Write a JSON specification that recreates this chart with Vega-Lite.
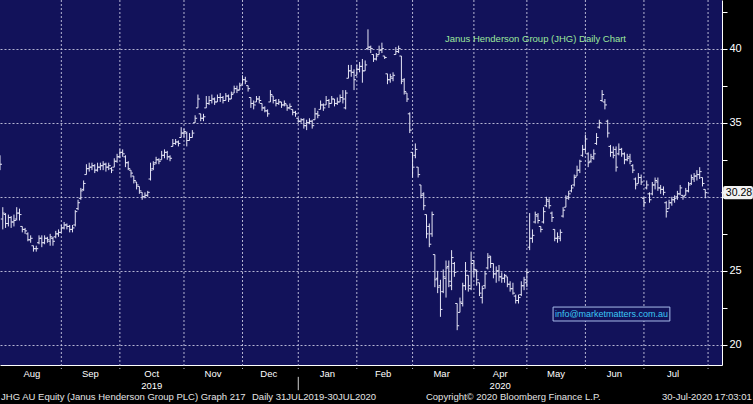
{
"$schema": "https://vega.github.io/schema/vega-lite/v6.json",
"width": 722,
"height": 365,
"autosize": {"type": "none"},
"padding": {"left": 0, "top": 0, "right": 31, "bottom": 39},
"background": "#000000",
"config": {"view": {"stroke": null, "fill": "#12125a"}, "font": "Liberation Sans", "text": {"font": "Liberation Sans"}},
"datasets": {
"one": [{}],
"bounds": [{"b":22},{"b":43},{"b":66},{"b":87},{"b":107},{"b":128},{"b":148},{"b":170},{"b":189},{"b":210},{"b":231},{"b":254}],
"ohlc": [
{"i":0,"o":32.6,"h":32.8,"l":31.8,"c":32.2},
{"i":1,"o":28.5,"h":29.3,"l":27.8,"c":28.9},
{"i":2,"o":28.8,"h":28.9,"l":27.9,"c":28.2},
{"i":3,"o":28.2,"h":28.8,"l":28.0,"c":28.6},
{"i":4,"o":28.6,"h":28.7,"l":27.9,"c":28.3},
{"i":5,"o":28.3,"h":28.8,"l":28.0,"c":28.4},
{"i":6,"o":28.5,"h":29.3,"l":28.4,"c":28.9},
{"i":7,"o":28.9,"h":29.2,"l":28.4,"c":28.8},
{"i":8,"o":28.0,"h":28.0,"l":27.6,"c":27.8},
{"i":9,"o":27.8,"h":27.9,"l":27.5,"c":27.7},
{"i":10,"o":27.5,"h":27.6,"l":27.0,"c":27.1},
{"i":11,"o":27.1,"h":27.4,"l":26.9,"c":27.2},
{"i":12,"o":26.7,"h":26.7,"l":26.3,"c":26.5},
{"i":13,"o":26.5,"h":26.7,"l":26.3,"c":26.5},
{"i":14,"o":26.9,"h":27.4,"l":26.8,"c":27.2},
{"i":15,"o":27.2,"h":27.4,"l":26.6,"c":26.9},
{"i":16,"o":26.9,"h":27.4,"l":26.8,"c":27.2},
{"i":17,"o":27.2,"h":27.3,"l":26.9,"c":27.1},
{"i":18,"o":27.0,"h":27.5,"l":26.7,"c":27.3},
{"i":19,"o":27.2,"h":27.3,"l":26.7,"c":27.0},
{"i":20,"o":27.3,"h":27.7,"l":27.2,"c":27.5},
{"i":21,"o":27.5,"h":27.8,"l":27.3,"c":27.6},
{"i":22,"o":27.6,"h":28.1,"l":27.6,"c":27.9},
{"i":23,"o":27.9,"h":28.3,"l":27.8,"c":28.1},
{"i":24,"o":28.1,"h":28.2,"l":27.8,"c":28.0},
{"i":25,"o":28.0,"h":28.1,"l":27.6,"c":27.8},
{"i":26,"o":27.8,"h":28.1,"l":27.6,"c":27.9},
{"i":27,"o":28.1,"h":29.1,"l":28.0,"c":29.0},
{"i":28,"o":29.2,"h":29.8,"l":29.1,"c":29.6},
{"i":29,"o":29.9,"h":30.6,"l":29.8,"c":30.4},
{"i":30,"o":30.5,"h":31.1,"l":30.4,"c":30.9},
{"i":31,"o":31.5,"h":32.2,"l":31.5,"c":31.9},
{"i":32,"o":31.9,"h":32.3,"l":31.7,"c":32.0},
{"i":33,"o":32.0,"h":32.3,"l":31.8,"c":32.1},
{"i":34,"o":32.1,"h":32.2,"l":31.6,"c":31.8},
{"i":35,"o":31.8,"h":32.3,"l":31.7,"c":32.0},
{"i":36,"o":32.0,"h":32.3,"l":31.8,"c":32.1},
{"i":37,"o":32.1,"h":32.4,"l":31.8,"c":32.2},
{"i":38,"o":32.2,"h":32.3,"l":31.7,"c":32.0},
{"i":39,"o":32.0,"h":32.3,"l":31.8,"c":32.1},
{"i":40,"o":31.9,"h":32.0,"l":31.6,"c":31.8},
{"i":41,"o":32.0,"h":32.6,"l":32.0,"c":32.4},
{"i":42,"o":32.4,"h":32.9,"l":32.3,"c":32.7},
{"i":43,"o":32.7,"h":33.2,"l":32.6,"c":33.0},
{"i":44,"o":33.0,"h":33.2,"l":32.7,"c":32.9},
{"i":45,"o":32.7,"h":32.8,"l":32.0,"c":32.3},
{"i":46,"o":32.3,"h":32.4,"l":31.8,"c":31.9},
{"i":47,"o":31.8,"h":31.8,"l":31.3,"c":31.6},
{"i":48,"o":31.4,"h":31.4,"l":30.9,"c":31.1},
{"i":49,"o":31.0,"h":31.0,"l":30.5,"c":30.8},
{"i":50,"o":30.7,"h":30.7,"l":30.2,"c":30.4},
{"i":51,"o":30.3,"h":30.3,"l":29.8,"c":30.0},
{"i":52,"o":30.0,"h":30.3,"l":29.9,"c":30.1},
{"i":53,"o":30.1,"h":30.4,"l":30.0,"c":30.3},
{"i":54,"o":31.2,"h":32.3,"l":31.1,"c":31.8},
{"i":55,"o":31.9,"h":32.4,"l":31.8,"c":32.2},
{"i":56,"o":32.3,"h":32.7,"l":32.2,"c":32.5},
{"i":57,"o":32.5,"h":32.6,"l":32.2,"c":32.4},
{"i":58,"o":32.5,"h":33.1,"l":32.5,"c":32.8},
{"i":59,"o":32.8,"h":33.2,"l":32.6,"c":33.0},
{"i":60,"o":33.0,"h":33.1,"l":32.5,"c":32.7},
{"i":61,"o":32.7,"h":32.8,"l":32.4,"c":32.6},
{"i":62,"o":33.4,"h":33.9,"l":33.4,"c":33.6},
{"i":63,"o":33.6,"h":33.9,"l":33.5,"c":33.7},
{"i":64,"o":33.7,"h":33.8,"l":33.4,"c":33.6},
{"i":65,"o":34.0,"h":34.7,"l":34.0,"c":34.3},
{"i":66,"o":34.3,"h":34.6,"l":34.0,"c":34.4},
{"i":67,"o":34.3,"h":34.4,"l":33.4,"c":33.8},
{"i":68,"o":33.8,"h":34.3,"l":33.8,"c":34.0},
{"i":69,"o":34.0,"h":34.5,"l":34.0,"c":34.3},
{"i":70,"o":35.0,"h":35.5,"l":35.0,"c":35.3},
{"i":71,"o":36.0,"h":36.9,"l":36.0,"c":36.6},
{"i":72,"o":35.6,"h":35.6,"l":35.1,"c":35.3},
{"i":73,"o":35.3,"h":35.6,"l":35.1,"c":35.4},
{"i":74,"o":36.0,"h":36.8,"l":36.0,"c":36.3},
{"i":75,"o":36.3,"h":36.8,"l":36.2,"c":36.5},
{"i":76,"o":36.5,"h":36.9,"l":36.3,"c":36.6},
{"i":77,"o":36.6,"h":36.7,"l":36.2,"c":36.4},
{"i":78,"o":36.4,"h":36.9,"l":36.4,"c":36.7},
{"i":79,"o":36.7,"h":37.0,"l":36.4,"c":36.7},
{"i":80,"o":36.7,"h":36.8,"l":36.3,"c":36.5},
{"i":81,"o":36.5,"h":37.0,"l":36.5,"c":36.8},
{"i":82,"o":36.8,"h":36.9,"l":36.4,"c":36.6},
{"i":83,"o":36.6,"h":37.1,"l":36.6,"c":36.9},
{"i":84,"o":37.0,"h":37.5,"l":37.0,"c":37.3},
{"i":85,"o":37.3,"h":37.5,"l":37.0,"c":37.2},
{"i":86,"o":37.2,"h":37.7,"l":37.2,"c":37.5},
{"i":87,"o":37.6,"h":38.2,"l":37.6,"c":37.9},
{"i":88,"o":37.9,"h":38.1,"l":37.6,"c":37.8},
{"i":89,"o":37.5,"h":37.5,"l":37.1,"c":37.3},
{"i":90,"o":36.7,"h":36.7,"l":36.0,"c":36.3},
{"i":91,"o":36.3,"h":36.5,"l":35.9,"c":36.2},
{"i":92,"o":36.4,"h":36.8,"l":36.4,"c":36.6},
{"i":93,"o":36.6,"h":36.8,"l":36.3,"c":36.5},
{"i":94,"o":36.3,"h":36.3,"l":35.8,"c":36.0},
{"i":95,"o":36.0,"h":36.1,"l":35.7,"c":35.8},
{"i":96,"o":35.8,"h":35.9,"l":35.4,"c":35.6},
{"i":97,"o":36.4,"h":37.2,"l":36.4,"c":36.9},
{"i":98,"o":36.8,"h":36.8,"l":36.3,"c":36.5},
{"i":99,"o":36.5,"h":36.6,"l":36.1,"c":36.3},
{"i":100,"o":36.3,"h":36.6,"l":36.2,"c":36.4},
{"i":101,"o":36.4,"h":36.4,"l":36.0,"c":36.2},
{"i":102,"o":36.2,"h":36.5,"l":36.1,"c":36.3},
{"i":103,"o":36.2,"h":36.2,"l":35.8,"c":36.0},
{"i":104,"o":36.0,"h":36.3,"l":35.9,"c":36.1},
{"i":105,"o":35.9,"h":35.9,"l":35.5,"c":35.7},
{"i":106,"o":35.7,"h":35.8,"l":35.4,"c":35.6},
{"i":107,"o":35.3,"h":35.3,"l":35.0,"c":35.1},
{"i":108,"o":35.1,"h":35.3,"l":35.0,"c":35.2},
{"i":109,"o":35.2,"h":35.3,"l":34.6,"c":34.8},
{"i":110,"o":34.8,"h":35.2,"l":34.5,"c":35.0},
{"i":111,"o":35.0,"h":35.3,"l":34.9,"c":35.1},
{"i":112,"o":35.1,"h":35.2,"l":34.6,"c":34.8},
{"i":113,"o":35.2,"h":36.0,"l":35.2,"c":35.6},
{"i":114,"o":35.6,"h":35.8,"l":35.3,"c":35.5},
{"i":115,"o":35.9,"h":36.5,"l":35.9,"c":36.2},
{"i":116,"o":36.2,"h":36.3,"l":35.8,"c":36.0},
{"i":117,"o":36.2,"h":36.8,"l":36.2,"c":36.5},
{"i":118,"o":36.5,"h":36.6,"l":36.0,"c":36.3},
{"i":119,"o":36.3,"h":36.8,"l":36.3,"c":36.6},
{"i":120,"o":36.6,"h":36.6,"l":36.1,"c":36.3},
{"i":121,"o":36.3,"h":36.7,"l":36.2,"c":36.4},
{"i":122,"o":36.4,"h":36.9,"l":36.4,"c":36.7},
{"i":123,"o":36.7,"h":37.2,"l":36.3,"c":36.6},
{"i":124,"o":36.0,"h":37.2,"l":35.9,"c":37.0},
{"i":125,"o":38.0,"h":38.9,"l":38.0,"c":38.5},
{"i":126,"o":38.5,"h":38.9,"l":38.1,"c":38.4},
{"i":127,"o":38.4,"h":38.6,"l":37.2,"c":37.9},
{"i":128,"o":38.2,"h":38.9,"l":38.2,"c":38.6},
{"i":129,"o":38.6,"h":39.1,"l":38.4,"c":38.8},
{"i":130,"o":38.8,"h":39.3,"l":37.7,"c":38.5},
{"i":131,"o":38.5,"h":39.2,"l":38.5,"c":38.9},
{"i":132,"o":40.0,"h":41.3,"l":39.9,"c":40.1},
{"i":133,"o":40.1,"h":40.2,"l":39.7,"c":40.0},
{"i":134,"o":39.6,"h":39.6,"l":39.1,"c":39.3},
{"i":135,"o":39.3,"h":39.7,"l":39.2,"c":39.5},
{"i":136,"o":39.6,"h":40.2,"l":39.6,"c":39.9},
{"i":137,"o":39.9,"h":40.4,"l":39.7,"c":40.0},
{"i":138,"o":39.5,"h":39.5,"l":39.3,"c":39.4},
{"i":139,"o":38.3,"h":38.3,"l":37.6,"c":37.9},
{"i":140,"o":37.9,"h":38.3,"l":37.7,"c":38.1},
{"i":141,"o":38.0,"h":38.4,"l":37.8,"c":38.2},
{"i":142,"o":39.6,"h":40.1,"l":39.6,"c":39.8},
{"i":143,"o":39.8,"h":40.2,"l":39.7,"c":40.0},
{"i":144,"o":39.5,"h":39.5,"l":37.6,"c":37.8},
{"i":145,"o":37.9,"h":38.0,"l":36.9,"c":37.1},
{"i":146,"o":37.0,"h":37.0,"l":36.4,"c":36.6},
{"i":147,"o":35.6,"h":35.7,"l":34.3,"c":34.5},
{"i":148,"o":33.0,"h":33.0,"l":31.3,"c":32.0},
{"i":149,"o":32.8,"h":33.6,"l":32.6,"c":33.2},
{"i":150,"o":32.0,"h":32.0,"l":31.3,"c":31.5},
{"i":151,"o":30.8,"h":30.8,"l":29.9,"c":30.1},
{"i":152,"o":30.2,"h":30.3,"l":29.1,"c":29.4},
{"i":153,"o":28.8,"h":28.8,"l":27.2,"c":27.5},
{"i":154,"o":28.0,"h":28.2,"l":26.6,"c":26.8},
{"i":155,"o":27.5,"h":29.0,"l":27.3,"c":28.8},
{"i":156,"o":26.1,"h":26.1,"l":23.9,"c":24.4},
{"i":157,"o":24.5,"h":25.0,"l":23.5,"c":23.9},
{"i":158,"o":24.0,"h":24.4,"l":21.9,"c":22.4},
{"i":159,"o":23.6,"h":25.1,"l":23.5,"c":24.6},
{"i":160,"o":24.5,"h":25.7,"l":23.2,"c":25.2},
{"i":161,"o":25.3,"h":25.7,"l":23.9,"c":24.3},
{"i":162,"o":24.0,"h":26.4,"l":23.7,"c":25.9},
{"i":163,"o":25.5,"h":25.6,"l":24.6,"c":24.9},
{"i":164,"o":22.8,"h":22.8,"l":21.0,"c":21.3},
{"i":165,"o":22.2,"h":23.2,"l":22.2,"c":22.9},
{"i":166,"o":22.8,"h":24.2,"l":22.6,"c":24.0},
{"i":167,"o":24.0,"h":25.6,"l":23.7,"c":25.0},
{"i":168,"o":24.7,"h":24.7,"l":23.6,"c":24.0},
{"i":169,"o":23.8,"h":26.3,"l":23.7,"c":25.5},
{"i":170,"o":25.7,"h":25.7,"l":24.6,"c":25.1},
{"i":171,"o":25.0,"h":25.1,"l":24.0,"c":24.4},
{"i":172,"o":24.2,"h":24.2,"l":23.3,"c":23.5},
{"i":173,"o":23.2,"h":24.0,"l":22.8,"c":23.8},
{"i":174,"o":24.0,"h":25.0,"l":23.8,"c":24.8},
{"i":175,"o":25.2,"h":26.2,"l":25.1,"c":25.9},
{"i":176,"o":26.0,"h":26.0,"l":25.2,"c":25.5},
{"i":177,"o":25.5,"h":25.5,"l":24.5,"c":24.8},
{"i":178,"o":24.8,"h":25.3,"l":24.2,"c":25.0},
{"i":179,"o":25.0,"h":25.4,"l":24.3,"c":24.6},
{"i":180,"o":24.6,"h":24.9,"l":24.2,"c":24.5},
{"i":181,"o":24.5,"h":24.8,"l":24.2,"c":24.7},
{"i":182,"o":24.6,"h":24.6,"l":23.9,"c":24.1},
{"i":183,"o":24.1,"h":24.3,"l":23.6,"c":23.8},
{"i":184,"o":23.8,"h":24.2,"l":23.4,"c":23.5},
{"i":185,"o":23.3,"h":23.4,"l":22.8,"c":23.0},
{"i":186,"o":23.0,"h":23.4,"l":22.8,"c":23.2},
{"i":187,"o":23.4,"h":24.3,"l":23.3,"c":24.0},
{"i":188,"o":24.0,"h":24.6,"l":23.7,"c":24.4},
{"i":189,"o":24.2,"h":25.1,"l":23.9,"c":24.9},
{"i":190,"o":26.6,"h":28.9,"l":26.4,"c":27.2},
{"i":191,"o":27.2,"h":27.8,"l":26.9,"c":27.4},
{"i":192,"o":28.3,"h":29.0,"l":28.2,"c":28.8},
{"i":193,"o":28.7,"h":28.9,"l":28.2,"c":28.4},
{"i":194,"o":28.0,"h":28.0,"l":27.6,"c":27.8},
{"i":195,"o":28.3,"h":29.3,"l":28.2,"c":29.0},
{"i":196,"o":29.4,"h":30.0,"l":29.3,"c":29.8},
{"i":197,"o":29.7,"h":29.9,"l":29.2,"c":29.4},
{"i":198,"o":28.9,"h":29.0,"l":28.3,"c":28.6},
{"i":199,"o":27.8,"h":27.8,"l":27.0,"c":27.2},
{"i":200,"o":27.2,"h":27.6,"l":26.9,"c":27.3},
{"i":201,"o":27.2,"h":27.8,"l":27.0,"c":27.6},
{"i":202,"o":28.7,"h":29.3,"l":28.6,"c":29.1},
{"i":203,"o":29.3,"h":30.1,"l":29.3,"c":29.9},
{"i":204,"o":30.0,"h":30.4,"l":29.8,"c":30.2},
{"i":205,"o":30.4,"h":30.8,"l":30.3,"c":30.6},
{"i":206,"o":30.8,"h":31.5,"l":30.7,"c":31.3},
{"i":207,"o":31.4,"h":32.1,"l":31.4,"c":31.8},
{"i":208,"o":31.8,"h":32.5,"l":31.6,"c":32.4},
{"i":209,"o":32.8,"h":33.5,"l":32.7,"c":33.2},
{"i":210,"o":33.2,"h":34.2,"l":33.0,"c":33.9},
{"i":211,"o":32.9,"h":33.0,"l":32.0,"c":32.3},
{"i":212,"o":32.4,"h":32.9,"l":32.3,"c":32.7},
{"i":213,"o":32.6,"h":33.2,"l":32.5,"c":32.9},
{"i":214,"o":33.6,"h":34.3,"l":33.5,"c":34.0},
{"i":215,"o":34.7,"h":35.2,"l":34.6,"c":35.0},
{"i":216,"o":36.5,"h":37.2,"l":36.4,"c":36.9},
{"i":217,"o":36.4,"h":36.6,"l":35.9,"c":36.2},
{"i":218,"o":35.1,"h":35.2,"l":34.0,"c":34.3},
{"i":219,"o":33.4,"h":33.5,"l":32.7,"c":33.0},
{"i":220,"o":33.0,"h":33.4,"l":32.6,"c":32.8},
{"i":221,"o":33.2,"h":33.4,"l":31.7,"c":32.0},
{"i":222,"o":32.9,"h":33.6,"l":32.8,"c":33.2},
{"i":223,"o":33.2,"h":33.3,"l":32.7,"c":32.9},
{"i":224,"o":32.9,"h":33.0,"l":32.2,"c":32.5},
{"i":225,"o":32.5,"h":32.9,"l":32.4,"c":32.6},
{"i":226,"o":32.7,"h":32.9,"l":32.2,"c":32.4},
{"i":227,"o":32.1,"h":32.2,"l":31.6,"c":31.8},
{"i":228,"o":31.2,"h":31.3,"l":30.5,"c":30.8},
{"i":229,"o":30.9,"h":31.6,"l":30.9,"c":31.3},
{"i":230,"o":31.3,"h":31.5,"l":30.8,"c":31.0},
{"i":231,"o":29.9,"h":30.0,"l":29.3,"c":29.6},
{"i":232,"o":30.6,"h":31.1,"l":30.5,"c":30.8},
{"i":233,"o":30.2,"h":30.3,"l":29.6,"c":29.8},
{"i":234,"o":30.2,"h":31.0,"l":30.1,"c":30.8},
{"i":235,"o":30.8,"h":31.3,"l":30.5,"c":31.1},
{"i":236,"o":31.0,"h":31.3,"l":30.4,"c":30.6},
{"i":237,"o":30.6,"h":30.8,"l":30.2,"c":30.5},
{"i":238,"o":30.5,"h":30.7,"l":30.1,"c":30.3},
{"i":239,"o":29.6,"h":29.7,"l":28.6,"c":29.0},
{"i":240,"o":29.2,"h":29.8,"l":29.2,"c":29.6},
{"i":241,"o":29.6,"h":30.0,"l":29.4,"c":29.8},
{"i":242,"o":29.8,"h":30.1,"l":29.6,"c":29.9},
{"i":243,"o":30.0,"h":30.4,"l":29.8,"c":30.2},
{"i":244,"o":30.2,"h":30.8,"l":30.1,"c":30.6},
{"i":245,"o":30.1,"h":30.1,"l":29.8,"c":30.0},
{"i":246,"o":30.1,"h":30.6,"l":30.1,"c":30.4},
{"i":247,"o":30.4,"h":31.0,"l":30.3,"c":30.8},
{"i":248,"o":30.9,"h":31.5,"l":30.8,"c":31.3},
{"i":249,"o":31.2,"h":31.6,"l":31.0,"c":31.4},
{"i":250,"o":31.4,"h":31.8,"l":31.1,"c":31.5},
{"i":251,"o":31.5,"h":32.0,"l":31.2,"c":31.7},
{"i":252,"o":31.3,"h":31.3,"l":30.7,"c":30.9},
{"i":253,"o":30.5,"h":30.5,"l":29.9,"c":30.28}
]
},
"layer": [
{
"data": {"name": "bounds"},
"mark": {"type": "rule", "color": "#c8c8e0", "strokeWidth": 1, "strokeDash": [2, 2], "opacity": 0.9},
"encoding": {
"x": {"field": "b", "type": "quantitative"},
"y": {"datum": 43.28, "type": "quantitative"},
"y2": {"datum": 18.38}
}
},
{
"data": {"name": "ohlc"},
"mark": {"type": "rule", "color": "#e6e6f6", "strokeWidth": 1},
"encoding": {
"x": {"field": "i", "type": "quantitative",
"scale": {"domain": [0, 259], "nice": false, "zero": false},
"axis": {
"orient": "bottom", "title": null,
"values": [11.25, 32.25, 54.25, 76.25, 96.25, 117.25, 137.25, 158.25, 179.25, 199.25, 220.25, 241.25],
"grid": false, "ticks": false,
"domain": true, "domainColor": "#ffffff", "domainWidth": 1,
"labelExpr": "datum.value === 54.25 ? ['Oct', '2019'] : datum.value === 179.25 ? ['Apr', '2020'] : (['Aug','Sep','Nov','Dec','Jan','Feb','Mar','May','Jun','Jul'][indexof([11.25,32.25,76.25,96.25,117.25,137.25,158.25,199.25,220.25,241.25], datum.value)] || '')",
"labelColor": "#ffffff", "labelFont": "Liberation Sans", "labelFontSize": 9.5,
"labelPadding": 3, "labelBaseline": "top", "labelLineHeight": 12,
"labelFlush": false, "labelOverlap": false, "labelBound": false
}
},
"y": {"field": "l", "type": "quantitative",
"scale": {"domain": [18.65, 43.28], "nice": false, "zero": false},
"axis": {
"orient": "right", "title": null,
"values": [20, 22.5, 25, 27.5, 30, 32.5, 35, 37.5, 40, 42.5],
"grid": true, "gridColor": "#c8c8e0", "gridDash": [2, 2], "gridWidth": 1,
"gridOpacity": {"condition": {"test": "datum.value % 5 !== 0", "value": 0}, "value": 0.9},
"ticks": true, "tickSize": 5, "tickColor": "#ffffff",
"domain": true, "domainColor": "#ffffff", "domainWidth": 1,
"labelExpr": "datum.value % 5 === 0 && datum.value !== 30 ? datum.label : ''",
"labelColor": "#ffffff", "labelFont": "Liberation Sans", "labelFontSize": 11,
"labelPadding": 2, "labelFlush": false, "labelOverlap": false
}
},
"y2": {"field": "h"}
}
},
{
"data": {"name": "ohlc"},
"mark": {"type": "tick", "orient": "horizontal", "size": 2, "thickness": 1, "xOffset": -1, "color": "#e6e6f6", "opacity": 1},
"encoding": {
"x": {"field": "i", "type": "quantitative"},
"y": {"field": "o", "type": "quantitative"}
}
},
{
"data": {"name": "ohlc"},
"mark": {"type": "tick", "orient": "horizontal", "size": 2, "thickness": 1, "xOffset": 1, "color": "#e6e6f6", "opacity": 1},
"encoding": {
"x": {"field": "i", "type": "quantitative"},
"y": {"field": "c", "type": "quantitative"}
}
},
{
"data": {"name": "one"},
"mark": {"type": "text", "text": "Janus Henderson Group (JHG) Daily Chart", "align": "left", "baseline": "middle", "fontSize": 9.5, "color": "#9ce89c"},
"encoding": {
"x": {"datum": 159.6, "type": "quantitative"},
"y": {"datum": 40.64, "type": "quantitative"}
}
},
{
"data": {"name": "one"},
"mark": {"type": "rect", "fill": "#12125a", "stroke": "#a8bcec", "strokeWidth": 1},
"encoding": {
"x": {"datum": 198.4, "type": "quantitative"},
"x2": {"datum": 240.3},
"y": {"datum": 22.56, "type": "quantitative"},
"y2": {"datum": 21.62}
}
},
{
"data": {"name": "one"},
"mark": {"type": "text", "text": "info@marketmatters.com.au", "align": "center", "baseline": "middle", "fontSize": 9, "color": "#3cc8f4"},
"encoding": {
"x": {"datum": 219.35, "type": "quantitative"},
"y": {"datum": 22.08, "type": "quantitative"}
}
},
{
"data": {"name": "one"},
"mark": {"type": "rect", "fill": "#f2f2f2", "cornerRadius": 2},
"encoding": {
"x": {"datum": 259.4, "type": "quantitative"},
"x2": {"datum": 270.1},
"y": {"datum": 30.73, "type": "quantitative"},
"y2": {"datum": 29.83}
}
},
{
"data": {"name": "one"},
"mark": {"type": "point", "shape": "triangle-left", "filled": true, "size": 28, "color": "#f2f2f2", "opacity": 1},
"encoding": {
"x": {"datum": 259.4, "type": "quantitative"},
"y": {"datum": 30.28, "type": "quantitative"}
}
},
{
"data": {"name": "one"},
"mark": {"type": "text", "text": "30.28", "align": "center", "baseline": "middle", "fontSize": 10.5, "color": "#000000"},
"encoding": {
"x": {"datum": 265.1, "type": "quantitative"},
"y": {"datum": 30.28, "type": "quantitative"}
}
},
{
"data": {"name": "one"},
"mark": {"type": "rule", "color": "#d0d0d0", "strokeWidth": 1},
"encoding": {
"x": {"datum": 107, "type": "quantitative"},
"y": {"datum": 17.85, "type": "quantitative"},
"y2": {"datum": 16.95}
}
},
{
"data": {"name": "one"},
"mark": {"type": "text", "text": "JHG AU Equity (Janus Henderson Group PLC) Graph 217", "align": "left", "baseline": "middle", "fontSize": 9.5, "color": "#e4e4e4"},
"encoding": {
"x": {"datum": 0.4, "type": "quantitative"},
"y": {"datum": 16.49, "type": "quantitative"}
}
},
{
"data": {"name": "one"},
"mark": {"type": "text", "text": "Daily 31JUL2019-30JUL2020", "align": "left", "baseline": "middle", "fontSize": 9.5, "color": "#e4e4e4"},
"encoding": {
"x": {"datum": 90.4, "type": "quantitative"},
"y": {"datum": 16.49, "type": "quantitative"}
}
},
{
"data": {"name": "one"},
"mark": {"type": "text", "text": "Copyright© 2020 Bloomberg Finance L.P.", "align": "left", "baseline": "middle", "fontSize": 9.5, "color": "#e4e4e4"},
"encoding": {
"x": {"datum": 152.8, "type": "quantitative"},
"y": {"datum": 16.49, "type": "quantitative"}
}
},
{
"data": {"name": "one"},
"mark": {"type": "text", "text": "30-Jul-2020 17:03:01", "align": "right", "baseline": "middle", "fontSize": 9.5, "color": "#e4e4e4"},
"encoding": {
"x": {"datum": 269.7, "type": "quantitative"},
"y": {"datum": 16.49, "type": "quantitative"}
}
}
]
}
